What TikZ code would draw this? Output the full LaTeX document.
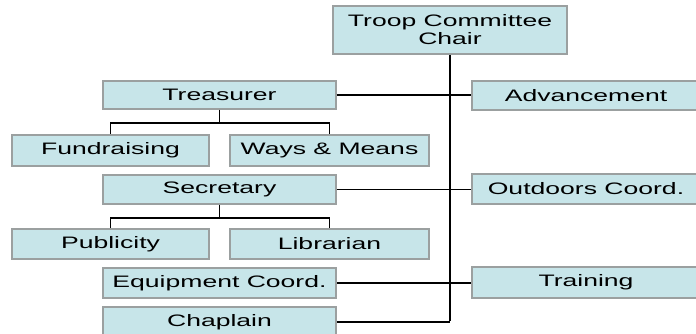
\documentclass[tikz,border=0pt]{standalone}
\usepackage{fontspec}
\setmainfont{Liberation Sans}[FakeStretch=1.6]
\definecolor{boxfill}{RGB}{199,229,233}
\definecolor{boxline}{RGB}{155,160,160}
\begin{document}
\begin{tikzpicture}[x=1pt,y=-1pt,
  orgbox/.style={draw=boxline, line width=1.6pt, fill=boxfill, inner sep=0pt,
    font=\fontsize{16.6}{18}\selectfont, text=black, align=center},
  link/.style={draw=black, line width=1.7pt},
  trunk/.style={draw=black, line width=2.4pt}]
\clip (0,0) rectangle (696,334);
\fill[white] (0,0) rectangle (696,334);
% nodes
\node[orgbox, minimum width=234, minimum height=48] (chair) at (450,30) {Troop Committee\\Chair};
\node[orgbox, minimum width=233, minimum height=28] (treas) at (219.5,95) {Treasurer};
\node[orgbox, minimum width=228, minimum height=29] (adv) at (586,95.5) {Advancement};
\node[orgbox, minimum width=197, minimum height=31] (fund) at (110.5,150.5) {Fundraising};
\node[orgbox, minimum width=199, minimum height=31] (ways) at (329.5,150.5) {Ways \& Means};
\node[orgbox, minimum width=233, minimum height=29] (sec) at (219.5,189.5) {Secretary};
\node[orgbox, minimum width=228, minimum height=30] (out) at (586,189) {Outdoors Coord.};
\node[orgbox, minimum width=197, minimum height=30] (pub) at (110.5,244) {Publicity};
\node[orgbox, minimum width=199, minimum height=30] (lib) at (329.5,244) {Librarian};
\node[orgbox, minimum width=233, minimum height=30] (equip) at (219.5,283) {Equipment Coord.};
\node[orgbox, minimum width=228, minimum height=31] (train) at (586,282.5) {Training};
\node[orgbox, minimum width=233, minimum height=30] (chap) at (219.5,322) {Chaplain};
% connectors
\coordinate (tb) at (chair.south |- chap.east);
\draw[link] (treas.east) -- (adv.west |- treas.east);
\draw[link] (sec.east) -- (out.west |- sec.east);
\draw[link] (equip.east) -- (train.west |- equip.east);
\draw[link] (chap.east) -- (tb);
\draw[trunk] (chair.south) -- ([yshift=1pt]tb);
\draw[link] (treas.south) -- ++(0,13) -| (fund.north);
\draw[link] (treas.south) -- ++(0,13) -| (ways.north);
\draw[link] (sec.south) -- ++(0,13) -| (pub.north);
\draw[link] (sec.south) -- ++(0,13) -| (lib.north);
\end{tikzpicture}
\end{document}
